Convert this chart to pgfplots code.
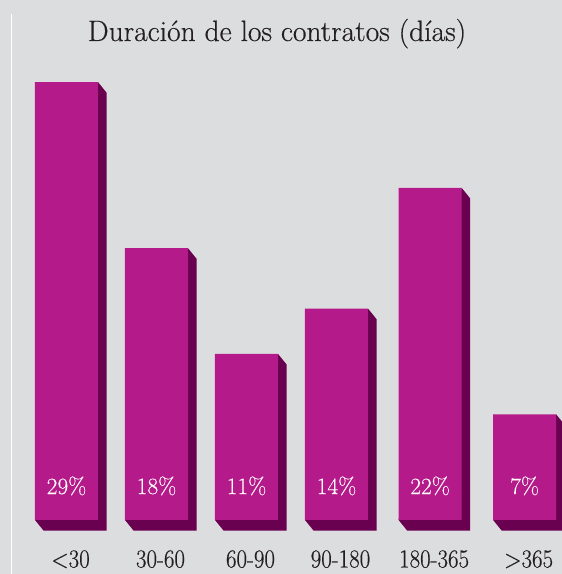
\documentclass[border=0pt]{standalone}
\usepackage{fontspec}
\usepackage{pgfplots}
\pgfplotsset{compat=1.18}

\newfontfamily\titlefont{Latin Modern Roman}[FakeBold=0.4]
\newfontfamily\valfont{Latin Modern Roman}[FakeBold=0.2]
\newfontfamily\catfont{Latin Modern Roman}[FakeStretch=0.88, FakeBold=0.4]

\definecolor{bg}{RGB}{220,221,223}
\definecolor{front}{RGB}{181,26,138}
\definecolor{side}{RGB}{106,0,80}
\definecolor{txt}{RGB}{35,31,32}

\begin{document}
\begin{tikzpicture}
\useasboundingbox (0pt,0pt) rectangle (562pt,574pt);
\fill[bg] (0pt,0pt) rectangle (562pt,574pt);
\draw[white, line width=1.5pt] (11.5pt,0pt) -- (11.5pt,560pt);
\node[anchor=base, text=txt, font=\titlefont\fontsize{29.5}{34}\selectfont]
  at (277pt,533pt) {Duración de los contratos (días)};

\begin{axis}[
  anchor=south west, at={(3.5pt,38.9pt)},
  x=90pt, y=15.1pt,
  xmin=-0.7, xmax=5.6, ymin=-1, ymax=32,
  axis line style={draw=none},
  major tick length=0pt,
  ytick=\empty,
  xtick={0,1,2,3,4.04,5.09},
  xticklabels={<30,30-60,60-90,90-180,180-365,>365},
  xticklabel style={anchor=base, yshift=-32.4pt, xshift=4pt, text=txt,
    font=\catfont\fontsize{26}{30}\selectfont},
  clip=false,
]
% depth of each bar (side and bottom faces)
\addplot[fill=side, draw=none] coordinates {(-0.35,0) (-0.255,-0.7) (0.445,-0.7) (0.445,28.3) (0.35,29)} -- cycle;
\addplot[fill=side, draw=none] coordinates {(0.65,0) (0.745,-0.7) (1.445,-0.7) (1.445,17.3) (1.35,18)} -- cycle;
\addplot[fill=side, draw=none] coordinates {(1.65,0) (1.745,-0.7) (2.445,-0.7) (2.445,10.3) (2.35,11)} -- cycle;
\addplot[fill=side, draw=none] coordinates {(2.65,0) (2.745,-0.7) (3.445,-0.7) (3.445,13.3) (3.35,14)} -- cycle;
\addplot[fill=side, draw=none] coordinates {(3.69,0) (3.785,-0.7) (4.485,-0.7) (4.485,21.3) (4.39,22)} -- cycle;
\addplot[fill=side, draw=none] coordinates {(4.74,0) (4.835,-0.7) (5.535,-0.7) (5.535,6.3) (5.44,7)} -- cycle;

% front faces
\addplot[ybar, bar width=0.7, bar shift=0pt, fill=front, draw=none] coordinates {
  (0,29) (1,18) (2,11) (3,14) (4.04,22) (5.09,7)
};

% value labels
\addplot[draw=none, mark=none, nodes near coords, point meta=explicit symbolic,
  every node near coord/.append style={anchor=base, inner sep=0pt, text=white,
    font=\valfont\fontsize{23.4}{28}\selectfont}]
  coordinates {
  (0,1.72) [29\%] (1,1.72) [18\%] (2,1.72) [11\%]
  (3,1.72) [14\%] (4.04,1.72) [22\%] (5.09,1.72) [7\%]
};
\end{axis}
\end{tikzpicture}
\end{document}
